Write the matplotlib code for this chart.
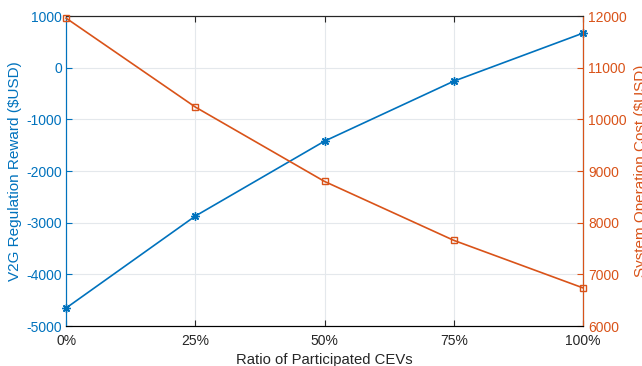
import matplotlib
matplotlib.use('Agg')
import matplotlib.pyplot as plt
import numpy as np

plt.rcParams['font.family'] = ['Liberation Sans', 'DejaVu Sans']
plt.rcParams['axes.unicode_minus'] = False

ratio = [0, 25, 50, 75, 100]
ratio_labels = ['0%', '25%', '50%', '75%', '100%']
reward = [-4650, -2870, -1420, -260, 670]
cost = [11960, 10240, 8800, 7660, 6740]

blue = '#0072BD'
orange = '#D95319'

fig, ax = plt.subplots(figsize=(6.42, 3.66), dpi=100)
plt.subplots_adjust(left=0.103, right=0.908, top=0.956, bottom=0.109)

ax.plot(ratio, reward, color=blue, marker=(8, 2, 0), markersize=6, mew=1.0,
        lw=1.2, clip_on=False, zorder=3)
ax.set_xlim(0, 100)
ax.set_ylim(-5000, 1000)
ax.set_yticks(np.arange(-5000, 1001, 1000))
ax.set_xticks(ratio)
ax.set_xticklabels(ratio_labels)
ax.set_xlabel('Ratio of Participated CEVs', fontsize=10.7, color='#262626', labelpad=3)
ax.set_ylabel('V2G Regulation Reward ($USD)', fontsize=11, color=blue, labelpad=3)
ax.grid(True, color='#e4e8ec', lw=0.8)
ax.set_axisbelow(True)
ax.tick_params(direction='in', length=4, labelsize=10)
ax.tick_params(axis='x', colors='#262626', top=True, pad=6)
ax.tick_params(axis='y', colors=blue, pad=3)
ax.spines['left'].set_color(blue)
ax.spines['top'].set_color('#262626')
ax.spines['bottom'].set_color('#262626')

ax2 = ax.twinx()
ax2.plot(ratio, cost, color=orange, marker='s', markersize=5, mfc='none', lw=1.2,
         clip_on=False, zorder=3)
ax2.set_ylim(6000, 12000)
ax2.set_yticks(np.arange(6000, 12001, 1000))
ax2.set_ylabel('System Operation Cost ($USD)', fontsize=11, color=orange, labelpad=5)
ax2.tick_params(direction='in', length=4, labelsize=10, colors=orange, pad=4)
ax2.spines['right'].set_color(orange)
ax2.spines['left'].set_color(blue)
ax2.spines['top'].set_color('#262626')

fig.savefig('out.png', dpi=100)
